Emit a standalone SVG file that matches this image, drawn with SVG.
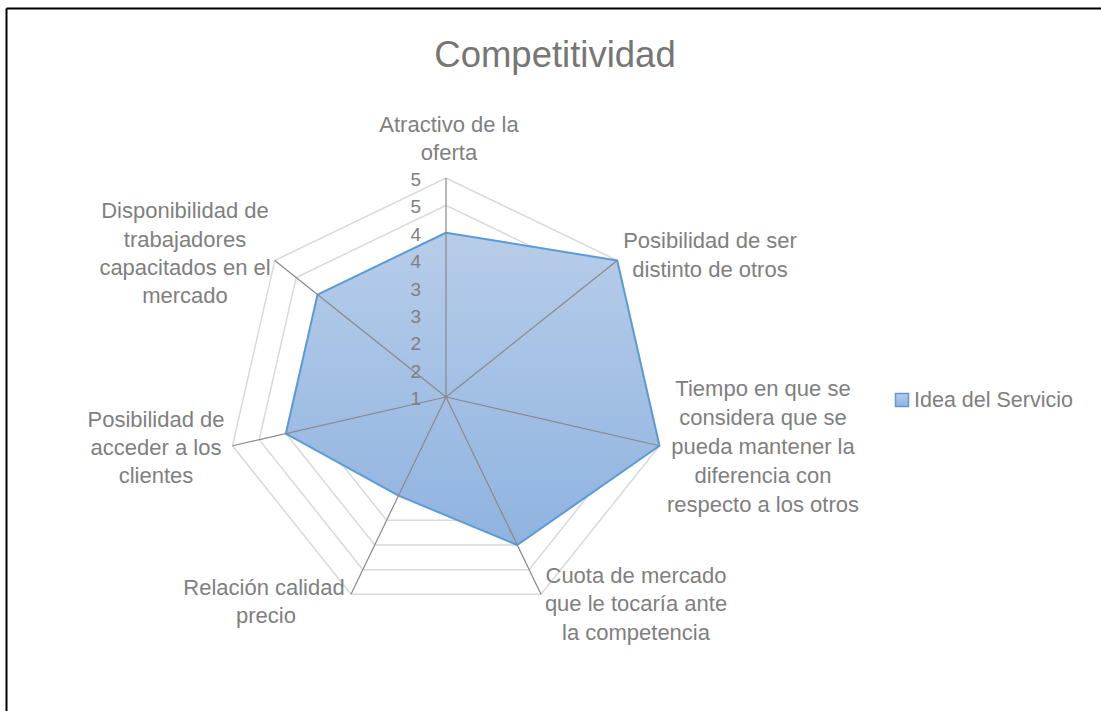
<svg xmlns="http://www.w3.org/2000/svg" width="1101" height="711" viewBox="0 0 1101 711">
<defs>
<linearGradient id="fillGrad" x1="0" y1="0" x2="0" y2="1">
<stop offset="0" stop-color="#b7cde9"/>
<stop offset="1" stop-color="#8fb3e0"/>
</linearGradient>
<style>
.ring{fill:none;stroke:#d9d9d9;stroke-width:1.5}
.axis{stroke:#898989;stroke-width:1.2;fill:none}
.lbl{font-family:"Liberation Sans",Arial,sans-serif;font-size:22px;fill:#7f7f7f;text-anchor:middle}
.num{font-family:"Liberation Sans",Arial,sans-serif;font-size:19px;fill:#7f7f7f;text-anchor:end}
.title{font-family:"Liberation Sans",Arial,sans-serif;font-size:36.5px;fill:#767676;text-anchor:middle}
.series{fill:url(#fillGrad);stroke:#5b9bd5;stroke-width:2;stroke-linejoin:round}
</style>
</defs>
<rect width="1101" height="711" fill="#ffffff"/>
<g id="frame">
<line x1="6.5" y1="8.5" x2="1101" y2="8.5" stroke="#000" stroke-width="2"/>
<line x1="6.5" y1="8.5" x2="6.5" y2="711" stroke="#000" stroke-width="2"/>
</g>
<text id="title" class="title" x="555" y="67">Competitividad</text>
<g id="grid">
<polygon class="ring" points="446,369.63 467.40,379.93 472.69,403.09 457.88,421.66 434.12,421.66 419.31,403.09 424.60,379.93"/>
<polygon class="ring" points="446,342.25 488.81,362.86 499.38,409.18 469.75,446.33 422.25,446.33 392.62,409.18 403.19,362.86"/>
<polygon class="ring" points="446,314.88 510.21,345.80 526.07,415.27 481.63,470.99 410.37,470.99 365.93,415.27 381.79,345.80"/>
<polygon class="ring" points="446,287.5 531.61,328.73 552.75,421.37 493.51,495.66 398.49,495.66 339.25,421.37 360.39,328.73"/>
<polygon class="ring" points="446,260.13 553.01,311.66 579.44,427.46 505.39,520.32 386.61,520.32 312.56,427.46 338.99,311.66"/>
<polygon class="ring" points="446,232.75 574.42,294.59 606.13,433.55 517.26,544.98 374.74,544.98 285.87,433.55 317.58,294.59"/>
<polygon class="ring" points="446,205.38 595.82,277.52 632.82,439.64 529.14,569.65 362.86,569.65 259.18,439.64 296.18,277.52"/>
<polygon class="ring" points="446,178 617.22,260.46 659.51,445.73 541.02,594.31 350.98,594.31 232.49,445.73 274.78,260.46"/>
</g>
<g id="series-idea-del-servicio">
<polygon class="series" points="446,232.75 617.22,260.46 659.51,445.73 517.26,544.98 398.49,495.66 285.87,433.55 317.58,294.59"/>
</g>
<g id="connectors">
<line class="axis" x1="446" y1="397" x2="446" y2="178"/>
<line class="axis" x1="446" y1="397" x2="617.22" y2="260.46"/>
<line class="axis" x1="446" y1="397" x2="659.51" y2="445.73"/>
<line class="axis" x1="446" y1="397" x2="541.02" y2="594.31"/>
<line class="axis" x1="446" y1="397" x2="350.98" y2="594.31"/>
<line class="axis" x1="446" y1="397" x2="232.49" y2="445.73"/>
<line class="axis" x1="446" y1="397" x2="274.78" y2="260.46"/>
</g>
<g id="axis-values">
<text class="num" x="421" y="186">5</text>
<text class="num" x="421" y="213">5</text>
<text class="num" x="421" y="241">4</text>
<text class="num" x="421" y="268">4</text>
<text class="num" x="421" y="296">3</text>
<text class="num" x="421" y="323">3</text>
<text class="num" x="421" y="350">2</text>
<text class="num" x="421" y="378">2</text>
<text class="num" x="421" y="405">1</text>
</g>
<g id="label-atractivo">
<text class="lbl" x="449" y="132">Atractivo de la</text>
<text class="lbl" x="449" y="160">oferta</text>
</g>
<g id="label-posibilidad-distinto">
<text class="lbl" x="710" y="248">Posibilidad de ser</text>
<text class="lbl" x="710" y="277">distinto de otros</text>
</g>
<g id="label-tiempo">
<text class="lbl" x="763" y="396">Tiempo en que se</text>
<text class="lbl" x="763" y="425">considera que se</text>
<text class="lbl" x="763" y="454">pueda mantener la</text>
<text class="lbl" x="763" y="483">diferencia con</text>
<text class="lbl" x="763" y="512">respecto a los otros</text>
</g>
<g id="label-cuota">
<text class="lbl" x="636" y="583">Cuota de mercado</text>
<text class="lbl" x="636" y="611">que le tocaría ante</text>
<text class="lbl" x="636" y="640">la competencia</text>
</g>
<g id="label-relacion">
<text class="lbl" x="264" y="595">Relación calidad</text>
<text class="lbl" x="266" y="623">precio</text>
</g>
<g id="label-acceder">
<text class="lbl" x="156" y="427">Posibilidad de</text>
<text class="lbl" x="156" y="455">acceder a los</text>
<text class="lbl" x="156" y="483">clientes</text>
</g>
<g id="label-disponibilidad">
<text class="lbl" x="185" y="218">Disponibilidad de</text>
<text class="lbl" x="185" y="247">trabajadores</text>
<text class="lbl" x="185" y="275">capacitados en el</text>
<text class="lbl" x="185" y="303">mercado</text>
</g>
<g id="legend">
<rect x="895.5" y="393.5" width="13" height="13" fill="url(#fillGrad)" stroke="#5b9bd5" stroke-width="1.5"/>
<text class="lbl" style="text-anchor:start;font-size:21.5px" x="914" y="407">Idea del Servicio</text>
</g>
</svg>
